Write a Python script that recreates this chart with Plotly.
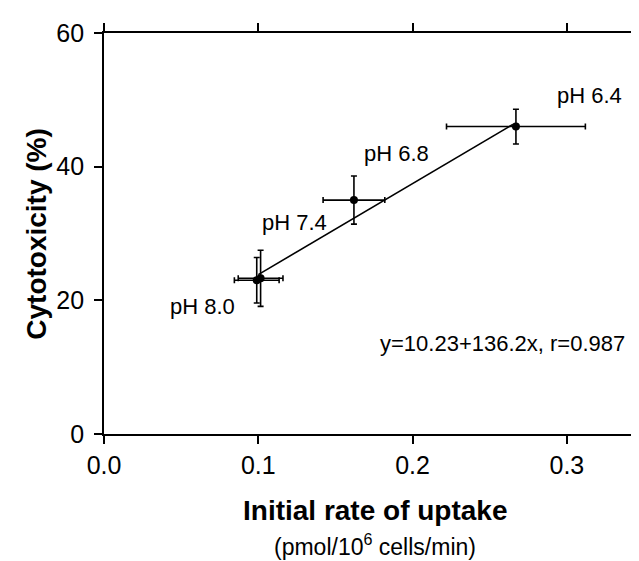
import plotly.graph_objects as go

# Data
ph_labels = ["pH 8.0", "pH 7.4", "pH 6.8", "pH 6.4"]
uptake = [0.099, 0.1015, 0.162, 0.267]
uptake_err = [0.0145, 0.0145, 0.020, 0.045]
cytotox = [23.0, 23.3, 35.0, 46.0]
cytotox_err = [3.4, 4.2, 3.6, 2.6]

# Regression stated in the figure: y = 10.23 + 136.2x
fit_intercept = 10.23
fit_slope = 136.2
fit_x = [0.1, 0.265]
fit_y = [fit_intercept + fit_slope * v for v in fit_x]

x_ticks = [0.0, 0.1, 0.2, 0.3]
x_tick_text = ["0.0", "0.1", "0.2", "0.3"]
y_ticks = [0, 20, 40, 60]

# label anchor positions (data coords)
label_x = [0.0639, 0.1233, 0.1898, 0.3145]
label_y = [19.15, 31.7, 41.9, 50.7]

FONT = "Liberation Sans, Arial, sans-serif"

fig = go.Figure()

fig.add_trace(go.Scatter(
    x=fit_x, y=fit_y, mode="lines",
    line=dict(color="black", width=1.6),
    showlegend=False, hoverinfo="skip",
))

fig.add_trace(go.Scatter(
    x=uptake, y=cytotox, mode="markers",
    marker=dict(color="black", size=8),
    error_x=dict(type="data", array=uptake_err, visible=True,
                 color="black", thickness=1.6, width=3),
    error_y=dict(type="data", array=cytotox_err, visible=True,
                 color="black", thickness=1.6, width=3),
    showlegend=False,
))

annotations = []
for t, lx, ly in zip(ph_labels, label_x, label_y):
    annotations.append(dict(x=lx, y=ly, xref="x", yref="y", text=t,
                            showarrow=False, xanchor="center", yanchor="middle",
                            font=dict(family=FONT, size=22, color="black")))

annotations.append(dict(x=0.2583, y=13.6, xref="x", yref="y",
                        text="y=10.23+136.2x, r=0.987", showarrow=False,
                        xanchor="center", yanchor="middle",
                        font=dict(family=FONT, size=22, color="black")))

annotations.append(dict(x=0.5037, y=-0.19, xref="paper", yref="paper",
                        text="<b>Initial rate of uptake</b>", showarrow=False,
                        xanchor="center", yanchor="middle",
                        font=dict(family=FONT, size=28, color="black")))
annotations.append(dict(x=0.502, y=-0.276, xref="paper", yref="paper",
                        text="(pmol/10<sup>6</sup> cells/min)", showarrow=False,
                        xanchor="center", yanchor="middle",
                        font=dict(family=FONT, size=23, color="black")))
annotations.append(dict(x=-0.1255, y=0.5, xref="paper", yref="paper",
                        text="<b>Cytotoxicity (%)</b>", showarrow=False,
                        textangle=-90, xanchor="center", yanchor="middle",
                        font=dict(family=FONT, size=28, color="black")))

fig.update_layout(
    width=639, height=561,
    margin=dict(l=96, r=1, t=25, b=135),
    paper_bgcolor="white", plot_bgcolor="white",
    font=dict(family=FONT, color="black"),
    annotations=annotations,
    xaxis=dict(range=[0, 0.35], tickvals=x_ticks, ticktext=x_tick_text,
               showgrid=False, zeroline=False, showline=True,
               linecolor="black", linewidth=1.8, mirror="ticks",
               ticks="outside", ticklen=8, tickwidth=1.8, tickcolor="black",
               tickfont=dict(family=FONT, size=25, color="black")),
    yaxis=dict(range=[0, 60], tickvals=y_ticks,
               showgrid=False, zeroline=False, showline=True,
               linecolor="black", linewidth=1.8, mirror=True,
               ticks="outside", ticklen=8, tickwidth=1.8, tickcolor="black",
               ticklabelstandoff=5,
               tickfont=dict(family=FONT, size=25, color="black")),
)

fig.write_html("out.html")
